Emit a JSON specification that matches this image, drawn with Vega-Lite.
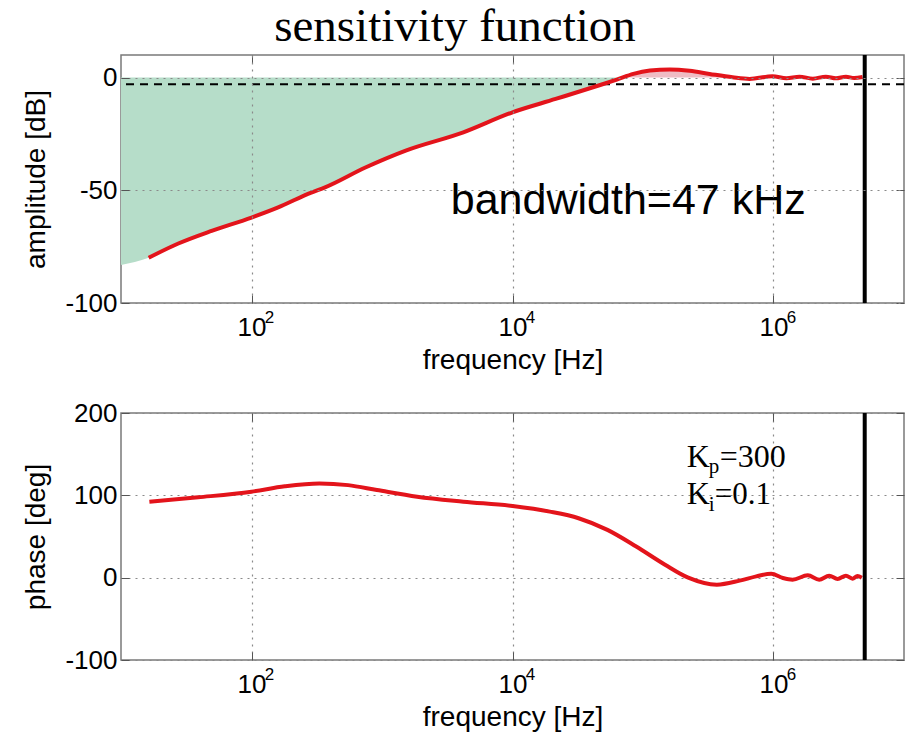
{
  "$schema": "https://vega.github.io/schema/vega-lite/v6.json",
  "background": "white",
  "padding": {"left": 22, "top": 3, "right": 4, "bottom": 0},
  "title": {"text": "sensitivity function", "font": "Liberation Serif", "fontSize": 47, "fontWeight": "normal", "color": "black", "anchor": "middle", "offset": 1, "dx": -9},
  "config": {
    "view": {"stroke": "#7a7a7a", "strokeWidth": 1.5},
    "axis": {
      "labelFont": "Liberation Sans", "labelFontSize": 26, "labelColor": "black",
      "titleFont": "Liberation Sans", "titleFontSize": 28, "titleFontWeight": "normal", "titleColor": "black",
      "domain": false, "tickColor": "#555555", "tickSize": -8, "tickWidth": 1,
      "gridColor": "#8a8a8a", "gridDash": [2, 5], "gridWidth": 1.2
    }
  },
  "datasets": {
    "amp": [
      {"f": 16.3, "db": -79.9}, {"f": 27.5, "db": -73.6}, {"f": 49.5, "db": -68.0}, {"f": 100, "db": -62.1},
      {"f": 160, "db": -57.6}, {"f": 287, "db": -51.0}, {"f": 366, "db": -48.7}, {"f": 746, "db": -39.9},
      {"f": 1520, "db": -32.4}, {"f": 4200, "db": -24.3}, {"f": 10000, "db": -15.4}, {"f": 21400, "db": -9.5},
      {"f": 47000, "db": -3.3}, {"f": 63000, "db": -0.9}, {"f": 84400, "db": 1.6}, {"f": 113000, "db": 3.1},
      {"f": 160600, "db": 3.6}, {"f": 228000, "db": 3.0}, {"f": 324000, "db": 1.6}, {"f": 486000, "db": 0.1},
      {"f": 656000, "db": -0.6}, {"f": 982000, "db": 0.6}, {"f": 1256000, "db": -0.3}, {"f": 1580000, "db": 0.4},
      {"f": 2000000, "db": -0.5}, {"f": 2520000, "db": 0.4}, {"f": 3010000, "db": -0.3}, {"f": 3590000, "db": 0.4},
      {"f": 4150000, "db": -0.2}, {"f": 4810000, "db": 0.2}
    ],
    "fill": [
      {"f": 10, "db": -83.1, "region": "below"}, {"f": 16.3, "db": -79.9, "region": "below"}, {"f": 27.5, "db": -73.6, "region": "below"},
      {"f": 49.5, "db": -68.0, "region": "below"}, {"f": 100, "db": -62.1, "region": "below"}, {"f": 160, "db": -57.6, "region": "below"},
      {"f": 287, "db": -51.0, "region": "below"}, {"f": 366, "db": -48.7, "region": "below"}, {"f": 746, "db": -39.9, "region": "below"},
      {"f": 1520, "db": -32.4, "region": "below"}, {"f": 4200, "db": -24.3, "region": "below"}, {"f": 10000, "db": -15.4, "region": "below"},
      {"f": 21400, "db": -9.5, "region": "below"}, {"f": 47000, "db": -3.3, "region": "below"}, {"f": 63000, "db": -0.9, "region": "below"},
      {"f": 70000, "db": 0, "region": "below"},
      {"f": 70000, "db": 0, "region": "above"}, {"f": 84400, "db": 1.6, "region": "above"}, {"f": 113000, "db": 3.1, "region": "above"},
      {"f": 160600, "db": 3.6, "region": "above"}, {"f": 228000, "db": 3.0, "region": "above"}, {"f": 324000, "db": 1.6, "region": "above"},
      {"f": 486000, "db": 0.1, "region": "above"}, {"f": 500000, "db": 0, "region": "above"}
    ],
    "phase": [
      {"f": 16.5, "deg": 92.3}, {"f": 39, "deg": 97.6}, {"f": 100, "deg": 104.4}, {"f": 180, "deg": 111},
      {"f": 331, "deg": 114.5}, {"f": 550, "deg": 112.4}, {"f": 914, "deg": 106.4}, {"f": 1860, "deg": 98.3},
      {"f": 4200, "deg": 92.3}, {"f": 10000, "deg": 87}, {"f": 19300, "deg": 80.2}, {"f": 32100, "deg": 72.2},
      {"f": 53400, "deg": 58}, {"f": 88700, "deg": 37.8}, {"f": 147500, "deg": 15.7}, {"f": 222000, "deg": 0},
      {"f": 368000, "deg": -8.5}, {"f": 550000, "deg": -3.6}, {"f": 738000, "deg": 1.6}, {"f": 960000, "deg": 4.8},
      {"f": 1180000, "deg": -0.4}, {"f": 1400000, "deg": -2.4}, {"f": 1830000, "deg": 2.8}, {"f": 2240000, "deg": -2.4},
      {"f": 2670000, "deg": 2.4}, {"f": 3100000, "deg": -1.6}, {"f": 3590000, "deg": 2.4}, {"f": 4030000, "deg": -1.2},
      {"f": 4400000, "deg": 2.0}, {"f": 4750000, "deg": 0}
    ],
    "exps": [{"f": 100, "e": "2"}, {"f": 10000, "e": "4"}, {"f": 1000000, "e": "6"}],
    "one": [{}]
  },
  "spacing": 24,
  "vconcat": [
    {
      "width": 783, "height": 248,
      "resolve": {"axis": {"x": "independent", "y": "independent"}},
      "layer": [
        {
          "data": {"name": "fill"},
          "mark": {"type": "area", "interpolate": "monotone", "opacity": 1},
          "encoding": {
            "x": {"field": "f", "type": "quantitative", "scale": {"type": "log", "domain": [10, 10000000], "nice": false},
                  "axis": {"values": [100, 10000, 1000000], "labelExpr": "'10'", "labelDx": -8, "labelPadding": 19, "title": "frequency [Hz]", "titlePadding": 6, "grid": true, "zindex": 1, "labelFlush": false}},
            "y": {"field": "db", "type": "quantitative", "scale": {"domain": [-100, 10], "nice": false, "zero": false},
                  "axis": {"values": [-100, -50, 0], "labelExpr": "'' + datum.value", "title": "amplitude [dB]", "labelPadding": 12, "titlePadding": 14, "grid": true, "zindex": 1}},
            "y2": {"datum": 0},
            "color": {"field": "region", "type": "nominal", "scale": {"domain": ["below", "above"], "range": ["#b6ddc9", "#efbcc4"]}, "legend": null}
          }
        },
        {
          "data": {"name": "one"},
          "mark": {"type": "rule", "color": "black", "strokeWidth": 2, "strokeDash": [8, 6]},
          "encoding": {
            "y": {"datum": -3, "type": "quantitative", "axis": {"orient": "right", "values": [-100, -50, 0], "labels": false, "title": null, "grid": false}}
          }
        },
        {
          "data": {"name": "amp"},
          "mark": {"type": "line", "color": "#e3141b", "strokeWidth": 4, "interpolate": "monotone"},
          "encoding": {
            "x": {"field": "f", "type": "quantitative", "axis": null},
            "y": {"field": "db", "type": "quantitative", "axis": null}
          }
        },
        {
          "data": {"name": "one"},
          "mark": {"type": "rule", "color": "black", "strokeWidth": 4},
          "encoding": {
            "x": {"datum": 5000000, "type": "quantitative", "axis": {"orient": "top", "values": [100, 10000, 1000000], "labels": false, "title": null, "grid": false}}
          }
        },
        {
          "data": {"values": [{"f": 3365, "db": -60.6, "t": "bandwidth=47 kHz"}]},
          "mark": {"type": "text", "align": "left", "baseline": "alphabetic", "font": "Liberation Sans", "fontSize": 43, "color": "black"},
          "encoding": {
            "x": {"field": "f", "type": "quantitative", "axis": null},
            "y": {"field": "db", "type": "quantitative", "axis": null},
            "text": {"field": "t"}
          }
        },
        {
          "data": {"name": "exps"},
          "mark": {"type": "text", "align": "center", "baseline": "top", "font": "Liberation Sans", "fontSize": 17, "color": "black", "dx": 18, "dy": 7},
          "encoding": {
            "x": {"field": "f", "type": "quantitative", "axis": null},
            "y": {"datum": -100, "type": "quantitative", "axis": null},
            "text": {"field": "e"}
          }
        }
      ]
    },
    {
      "width": 783, "height": 247,
      "resolve": {"axis": {"x": "independent", "y": "independent"}},
      "layer": [
        {
          "data": {"name": "phase"},
          "mark": {"type": "line", "color": "#e3141b", "strokeWidth": 4, "interpolate": "monotone"},
          "encoding": {
            "x": {"field": "f", "type": "quantitative", "scale": {"type": "log", "domain": [10, 10000000], "nice": false},
                  "axis": {"values": [100, 10000, 1000000], "labelExpr": "'10'", "labelDx": -8, "labelPadding": 19, "title": "frequency [Hz]", "titlePadding": 6, "grid": true, "zindex": 0, "labelFlush": false}},
            "y": {"field": "deg", "type": "quantitative", "scale": {"domain": [-100, 200], "nice": false, "zero": false},
                  "axis": {"values": [-100, 0, 100, 200], "labelExpr": "'' + datum.value", "title": "phase [deg]", "labelPadding": 12, "titlePadding": 14, "grid": true, "zindex": 0}}
          }
        },
        {
          "data": {"name": "one"},
          "mark": {"type": "rule", "color": "black", "strokeWidth": 4},
          "encoding": {
            "x": {"datum": 5000000, "type": "quantitative", "axis": {"orient": "top", "values": [100, 10000, 1000000], "labels": false, "title": null, "grid": false}},
            "y": {"datum": -100, "type": "quantitative", "axis": {"orient": "right", "values": [-100, 0, 100, 200], "labels": false, "title": null, "grid": false}},
            "y2": {"datum": 200}
          }
        },
        {
          "data": {"values": [{"f": 216000, "deg": 134.6, "t": "K"}, {"f": 216000, "deg": 89.5, "t": "K"}]},
          "mark": {"type": "text", "align": "left", "baseline": "alphabetic", "font": "Liberation Serif", "fontSize": 32, "color": "black"},
          "encoding": {
            "x": {"field": "f", "type": "quantitative", "axis": null},
            "y": {"field": "deg", "type": "quantitative", "axis": null},
            "text": {"field": "t"}
          }
        },
        {
          "data": {"values": [{"f": 216000, "deg": 134.6, "t": "p"}]},
          "mark": {"type": "text", "align": "left", "baseline": "alphabetic", "font": "Liberation Serif", "fontSize": 21, "color": "black", "dx": 22, "dy": 6},
          "encoding": {
            "x": {"field": "f", "type": "quantitative", "axis": null},
            "y": {"field": "deg", "type": "quantitative", "axis": null},
            "text": {"field": "t"}
          }
        },
        {
          "data": {"values": [{"f": 216000, "deg": 134.6, "t": "=300"}]},
          "mark": {"type": "text", "align": "left", "baseline": "alphabetic", "font": "Liberation Serif", "fontSize": 32, "color": "black", "dx": 33},
          "encoding": {
            "x": {"field": "f", "type": "quantitative", "axis": null},
            "y": {"field": "deg", "type": "quantitative", "axis": null},
            "text": {"field": "t"}
          }
        },
        {
          "data": {"values": [{"f": 216000, "deg": 89.5, "t": "i"}]},
          "mark": {"type": "text", "align": "left", "baseline": "alphabetic", "font": "Liberation Serif", "fontSize": 21, "color": "black", "dx": 22, "dy": 7},
          "encoding": {
            "x": {"field": "f", "type": "quantitative", "axis": null},
            "y": {"field": "deg", "type": "quantitative", "axis": null},
            "text": {"field": "t"}
          }
        },
        {
          "data": {"values": [{"f": 216000, "deg": 89.5, "t": "=0.1"}]},
          "mark": {"type": "text", "align": "left", "baseline": "alphabetic", "font": "Liberation Serif", "fontSize": 31, "color": "black", "dx": 28},
          "encoding": {
            "x": {"field": "f", "type": "quantitative", "axis": null},
            "y": {"field": "deg", "type": "quantitative", "axis": null},
            "text": {"field": "t"}
          }
        },
        {
          "data": {"name": "exps"},
          "mark": {"type": "text", "align": "center", "baseline": "top", "font": "Liberation Sans", "fontSize": 17, "color": "black", "dx": 18, "dy": 7},
          "encoding": {
            "x": {"field": "f", "type": "quantitative", "axis": null},
            "y": {"datum": -100, "type": "quantitative", "axis": null},
            "text": {"field": "e"}
          }
        }
      ]
    }
  ]
}
